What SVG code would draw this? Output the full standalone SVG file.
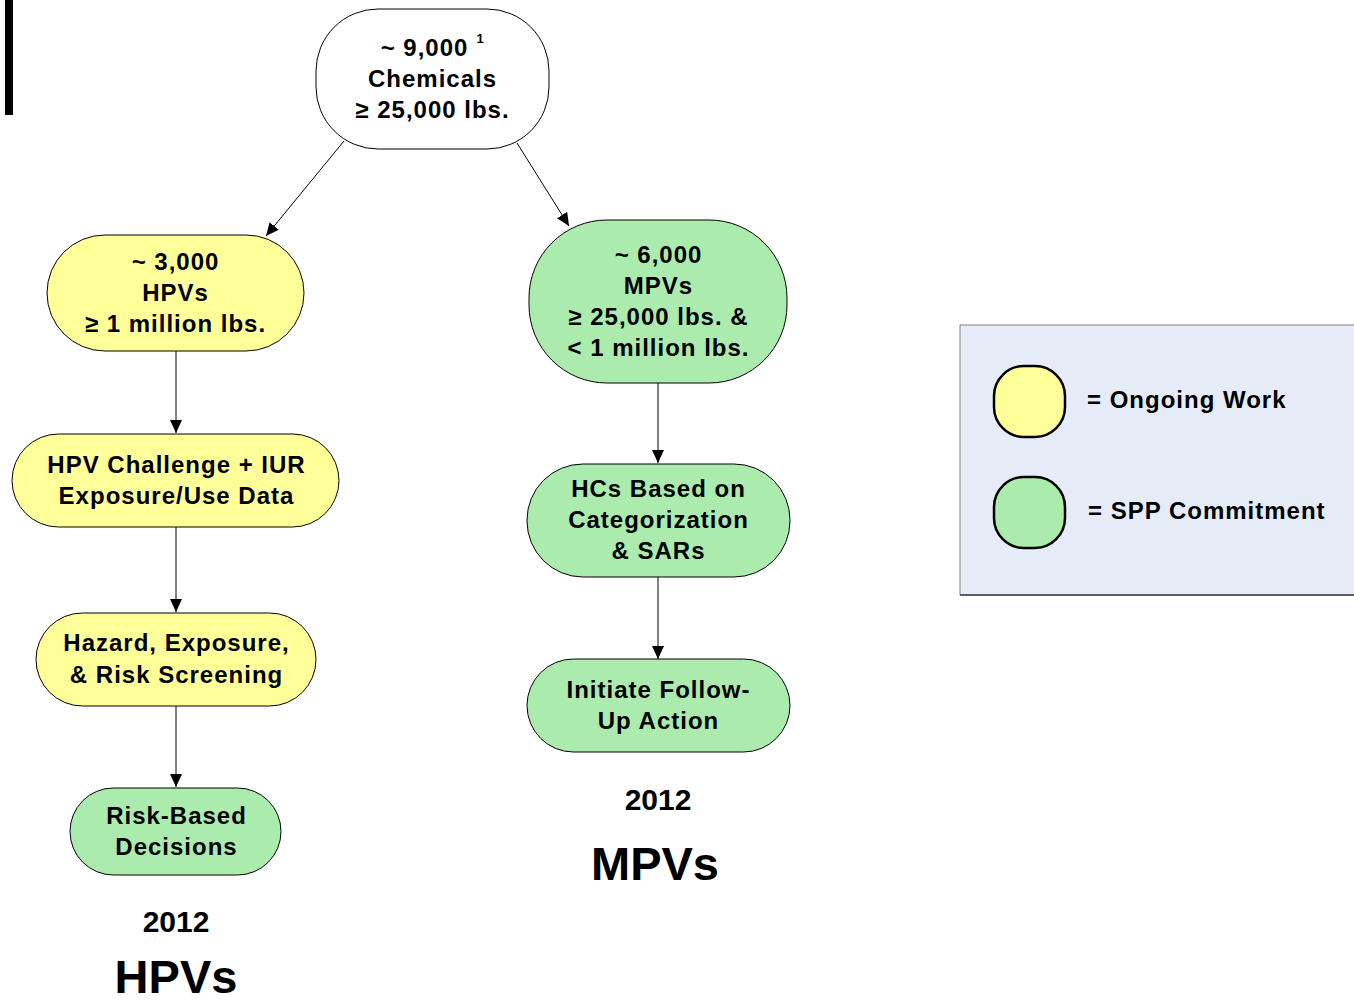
<svg xmlns="http://www.w3.org/2000/svg" width="1354" height="1002" viewBox="0 0 1354 1002">
<style>
.y{fill:#ffff99;stroke:#000;stroke-width:1}
.g{fill:#acebae;stroke:#000;stroke-width:1}
.w{fill:#fff;stroke:#000;stroke-width:1}
text{font-family:"Liberation Sans",Arial,sans-serif;font-weight:bold;fill:#000;text-anchor:middle}
.t{font-size:24px;letter-spacing:1px}
.c{stroke:#000;stroke-width:1;fill:none;marker-end:url(#ah)}
</style>
<defs>
<marker id="ah" markerWidth="14" markerHeight="14" refX="13" refY="6" orient="auto" markerUnits="userSpaceOnUse">
<path d="M0,0 L13,6 L0,12 Z" fill="#000"/>
</marker>
</defs>
<rect x="5" y="0" width="8" height="115" fill="#000"/>
<g id="connectors">
<line class="c" x1="344" y1="141" x2="266" y2="236"/>
<line class="c" x1="517" y1="143" x2="569" y2="226"/>
<line class="c" x1="176" y1="351" x2="176" y2="433"/>
<line class="c" x1="176" y1="527" x2="176" y2="612"/>
<line class="c" x1="176" y1="706" x2="176" y2="787"/>
<line class="c" x1="658" y1="383" x2="658" y2="463"/>
<line class="c" x1="658" y1="577" x2="658" y2="659"/>
</g>
<g id="top">
<rect class="w" x="316" y="9" width="233" height="140" rx="62" ry="62"/>
<text class="t" x="424.5" y="56">~ 9,000</text>
<text x="480" y="43" font-size="13">1</text>
<text class="t" x="432.5" y="87">Chemicals</text>
<text class="t" x="432.5" y="118">≥ 25,000 lbs.</text>
</g>
<g id="hpv">
<rect class="y" x="47" y="235" width="257" height="116" rx="58" ry="58"/>
<text class="t" x="175.5" y="270">~ 3,000</text>
<text class="t" x="175.5" y="301">HPVs</text>
<text class="t" x="175.5" y="332">≥ 1 million lbs.</text>
</g>
<g id="mpv">
<rect class="g" x="529" y="220" width="258" height="163" rx="78" ry="78"/>
<text class="t" x="658.5" y="263">~ 6,000</text>
<text class="t" x="658.5" y="294">MPVs</text>
<text class="t" x="658.5" y="325">≥ 25,000 lbs. &amp;</text>
<text class="t" x="658.5" y="356">&lt; 1 million lbs.</text>
</g>
<g id="hpvchallenge">
<rect class="y" x="12" y="434" width="327" height="93" rx="46.5" ry="46.5"/>
<text class="t" x="176.5" y="473">HPV Challenge + IUR</text>
<text class="t" x="176.5" y="504">Exposure/Use Data</text>
</g>
<g id="hazard">
<rect class="y" x="36" y="613" width="280" height="93" rx="46.5" ry="46.5"/>
<text class="t" x="176.5" y="651">Hazard, Exposure,</text>
<text class="t" x="176.5" y="683">&amp; Risk Screening</text>
</g>
<g id="riskbased">
<rect class="g" x="70" y="788" width="211" height="87" rx="43.5" ry="43.5"/>
<text class="t" x="176.5" y="824">Risk-Based</text>
<text class="t" x="176.5" y="855">Decisions</text>
</g>
<g id="hcs">
<rect class="g" x="527" y="464" width="263" height="113" rx="56" ry="56"/>
<text class="t" x="658.5" y="497">HCs Based on</text>
<text class="t" x="658.5" y="528">Categorization</text>
<text class="t" x="658.5" y="559">&amp; SARs</text>
</g>
<g id="initiate">
<rect class="g" x="527" y="659" width="263" height="93" rx="46.5" ry="46.5"/>
<text class="t" x="658.5" y="698">Initiate Follow-</text>
<text class="t" x="658.5" y="729">Up Action</text>
</g>
<g id="hpvlabel">
<text x="176" y="932" font-size="30">2012</text>
<text x="176" y="993" font-size="47">HPVs</text>
</g>
<g id="mpvlabel">
<text x="658" y="810" font-size="30">2012</text>
<text x="655" y="880" font-size="47">MPVs</text>
</g>
<g id="legend">
<rect x="960" y="325" width="400" height="270" fill="#e6ecf7" stroke="#808080" stroke-width="1"/>
<line x1="960" y1="595" x2="1354" y2="595" stroke="#000" stroke-width="1"/>
<rect x="994" y="366" width="71" height="71" rx="30" ry="30" fill="#ffff99" stroke="#000" stroke-width="2.5"/>
<rect x="994" y="477" width="71" height="71" rx="30" ry="30" fill="#acebae" stroke="#000" stroke-width="2.5"/>
<text x="1087" y="408" font-size="24" letter-spacing="1" style="text-anchor:start">= Ongoing Work</text>
<text x="1088" y="519" font-size="24" letter-spacing="1" style="text-anchor:start">= SPP Commitment</text>
</g>
</svg>
